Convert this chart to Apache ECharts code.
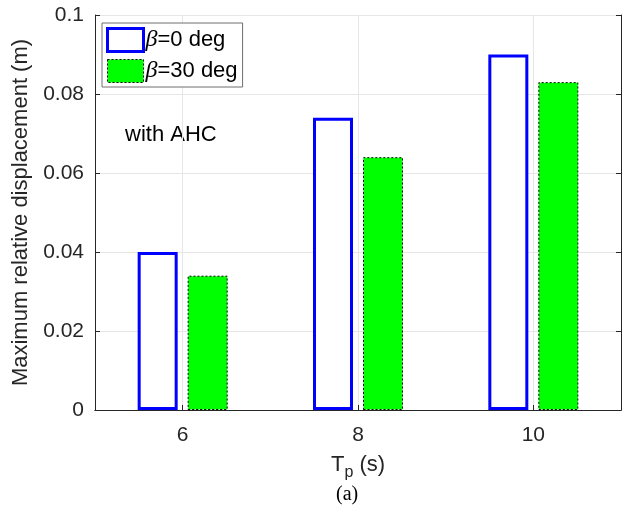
<!DOCTYPE html>
<html>
<head>
<meta charset="utf-8">
<script src="https://cdn.jsdelivr.net/npm/echarts@6/dist/echarts.min.js"></script>
<style>
  html, body { margin: 0; padding: 0; background: #fff; }
  #main { width: 622px; height: 523px; }
</style>
</head>
<body>
<div id="main"></div>
<script>
// 数据
var periods = ['6', '8', '10'];           // T_p (s)
var beta0 = [0.040, 0.074, 0.090];        // β=0 deg
var beta30 = [0.034, 0.064, 0.083];       // β=30 deg
var yTicks = [0, 0.02, 0.04, 0.06, 0.08, 0.1];

var textColor = '#262626';
var font = 'Liberation Sans, Arial, Helvetica, sans-serif';
var serif = 'Liberation Serif, Times New Roman, serif';

var myChart = echarts.init(document.getElementById('main'), null, { renderer: 'canvas' });

var option = {
  animation: false,
  backgroundColor: '#fff',
  grid: { left: 95, right: 1, top: 15, bottom: 113, containLabel: false },
  legend: {
    left: 102,
    top: 23,
    orient: 'vertical',
    itemWidth: 36,
    itemHeight: 23,
    itemGap: 6,
    padding: [4, 5, 4, 4],
    borderColor: '#6e6e6e',
    borderWidth: 1,
    backgroundColor: '#fff',
    formatter: function (name) {
      return name === 'b0' ? '{i|β}=0 deg' : '{i|β}=30 deg';
    },
    textStyle: {
      fontFamily: font,
      fontSize: 22,
      color: '#000',
      padding: [0, 0, 0, -3],
      rich: {
        i: { fontFamily: serif, fontStyle: 'italic', fontSize: 24, color: '#000' }
      }
    },
    data: [
      { name: 'b0', icon: 'rect', itemStyle: { color: '#fff', borderColor: '#0000ff', borderWidth: 3 } },
      { name: 'b30', icon: 'rect', itemStyle: { color: '#00ff00', borderColor: '#000', borderWidth: 1, borderType: [2, 2] } }
    ]
  },
  xAxis: [{
    type: 'category',
    data: periods,
    boundaryGap: true,
    name: '{a|T}{s|p}{a| (s)}',
    nameLocation: 'middle',
    nameGap: 39,
    nameTextStyle: {
      rich: {
        a: { fontFamily: font, fontSize: 22, color: textColor },
        s: { fontFamily: font, fontSize: 16, color: textColor, padding: [16, 0, 0, 0] }
      }
    },
    axisLine: { show: true, lineStyle: { color: textColor, width: 1 } },
    axisTick: { show: true, inside: true, length: 5, alignWithLabel: true, lineStyle: { color: textColor } },
    axisLabel: { fontFamily: font, fontSize: 21, color: textColor, margin: 15 },
    splitLine: { show: true, alignWithLabel: true, lineStyle: { color: '#e6e6e6', width: 1 } }
  }, {
    type: 'category',
    data: periods,
    position: 'top',
    axisLine: { show: true, lineStyle: { color: textColor, width: 1 } },
    axisTick: { show: false },
    axisLabel: { show: false },
    splitLine: { show: false }
  }],
  yAxis: [{
    type: 'value',
    min: 0,
    max: 0.1,
    interval: 0.02,
    name: 'Maximum relative displacement (m)',
    nameLocation: 'middle',
    nameGap: 62,
    nameTextStyle: { fontFamily: font, fontSize: 22, color: textColor },
    axisLine: { show: true, lineStyle: { color: textColor, width: 1 } },
    axisTick: { show: true, inside: true, length: 5, lineStyle: { color: textColor } },
    axisLabel: {
      fontFamily: font, fontSize: 21, color: textColor, margin: 11,
      formatter: function (v) {
        var t = yTicks.find(function (k) { return Math.abs(k - v) < 1e-9; });
        return t === undefined ? '' : String(t);
      }
    },
    splitLine: { show: true, lineStyle: { color: '#e6e6e6', width: 1 } }
  }, {
    type: 'value',
    min: 0,
    max: 0.1,
    interval: 0.02,
    position: 'right',
    axisLine: { show: true, lineStyle: { color: textColor, width: 1 } },
    axisTick: { show: true, inside: true, length: 5, lineStyle: { color: textColor } },
    axisLabel: { show: false },
    splitLine: { show: false }
  }],
  graphic: [{
    type: 'text',
    left: 125,
    top: 124,
    style: { text: 'with AHC', fontFamily: font, fontSize: 22, fill: '#000' }
  }, {
    type: 'text',
    left: 336,
    top: 485,
    style: { text: '(a)', fontFamily: serif, fontSize: 20, fill: '#000' }
  }],
  series: [{
    name: 'b0',
    type: 'bar',
    data: beta0,
    barWidth: 40,
    barGap: '25%',
    itemStyle: { color: '#fff', borderColor: '#0000ff', borderWidth: 3 },
    z: 3
  }, {
    name: 'b30',
    type: 'bar',
    data: beta30,
    barWidth: 40,
    itemStyle: { color: '#00ff00', borderColor: '#000', borderWidth: 1, borderType: [2, 2] },
    z: 3
  }]
};

myChart.setOption(option);
</script>
</body>
</html>
